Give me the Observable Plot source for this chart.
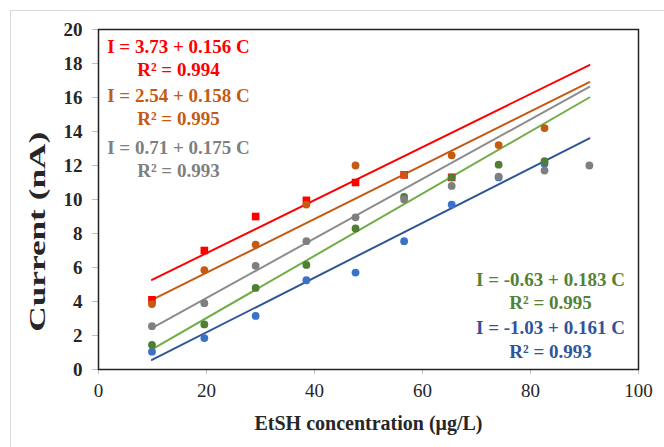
<!DOCTYPE html>
<html><head><meta charset="utf-8">
<script src="https://cdn.jsdelivr.net/npm/d3@7"></script>
<script src="https://cdn.jsdelivr.net/npm/@observablehq/plot@0.6"></script>
<style>
html,body{margin:0;padding:0;background:#fff;}
#wrap{position:relative;width:664px;height:447px;overflow:hidden;}
#border{position:absolute;left:10px;top:10px;width:720px;height:520px;border:1px solid #d9d9d9;box-sizing:border-box;}
#chart{position:absolute;left:0;top:0;}
</style></head><body>
<div id="wrap"><div id="border"></div><div id="chart"></div></div>
<script>
// ---- data ----
const conc = [9.9, 19.6, 29.1, 38.5, 47.6, 56.6, 65.4, 74.1, 82.6, 90.9];
const currentRed    = [4.1, 7.0, 9.0, 9.95, 11.0, 11.45, 11.3];
const currentOrange = [3.85, 5.85, 7.35, 9.7, 12.0, 11.45, 12.6, 13.2, 14.2];
const currentGray   = [2.55, 3.9, 6.1, 7.55, 8.95, 10.0, 10.8, 11.35, 11.7, 12.0];
const currentGreen  = [1.45, 2.65, 4.8, 6.15, 8.3, 10.15, 11.3, 12.05, 12.25];
const currentBlue   = [1.05, 1.85, 3.15, 5.25, 5.7, 7.55, 9.7, 11.3, 12.1];
const trendX = [9.9, 90.9];
const trendRed    = [5.27, 17.91];
const trendOrange = [4.10, 16.90];
const trendGray   = [2.44, 16.62];
const trendGreen  = [1.18, 16.00];
const trendBlue   = [0.56, 13.60];
const eqText = ["I = 3.73 + 0.156 C", "I = 2.54 + 0.158 C", "I = 0.71 + 0.175 C", "I = -0.63 + 0.183 C", "I = -1.03 + 0.161 C"];
const r2Text = ["R² = 0.994", "R² = 0.995", "R² = 0.993", "R² = 0.995", "R² = 0.993"];
const xTicks = [0, 20, 40, 60, 80, 100];
const yTicks = [0, 2, 4, 6, 8, 10, 12, 14, 16, 18, 20];
const xTitle = "EtSH concentration (μg/L)";
const yTitle = "Current (nA)";

// ---- styles / layout ----
const FONT = "Liberation Serif";
const series = [
  {key: "red",    values: currentRed,    trend: trendRed,    point: "#ff0000", line: "#ff0000", text: "#ff0000", symbol: "square", r: 4.3},
  {key: "orange", values: currentOrange, trend: trendOrange, point: "#c55a11", line: "#c55a11", text: "#c55a11", symbol: "circle", r: 3.9},
  {key: "gray",   values: currentGray,   trend: trendGray,   point: "#7f7f7f", line: "#8c8c8c", text: "#7f7f7f", symbol: "circle", r: 3.9},
  {key: "green",  values: currentGreen,  trend: trendGreen,  point: "#507e32", line: "#70ad47", text: "#548235", symbol: "circle", r: 3.9},
  {key: "blue",   values: currentBlue,   trend: trendBlue,   point: "#3a72c8", line: "#2f5597", text: "#2f5597", symbol: "circle", r: 3.9}
];
const drawOrder = ["red", "blue", "green", "orange", "gray"];
const labelPos = [
  {x: 14.8, y1: 18.95, y2: 17.61},
  {x: 14.8, y1: 16.10, y2: 14.73},
  {x: 14.8, y1: 13.02, y2: 11.67},
  {x: 83.7, y1: 5.26,  y2: 3.89},
  {x: 83.7, y1: 2.42,  y2: 1.06}
];
const titlePos = {xTitle: {x: 50, y: -3.2}, yTitle: {x: -11.3, y: 8.1}};

const lineRows = [];
series.forEach(s => trendX.forEach((x, i) => lineRows.push({series: s.key, x, y: s.trend[i]})));
const pointMarks = drawOrder.map(k => {
  const s = series.find(d => d.key === k);
  const rows = s.values.map((v, i) => ({x: conc[i], y: v}));
  return Plot.dot(rows, {x: "x", y: "y", r: s.r, symbol: s.symbol, fill: s.point, stroke: "none"});
});
const lineMarks = series.map(s =>
  Plot.line(lineRows.filter(d => d.series === s.key), {x: "x", y: "y", stroke: s.line, strokeWidth: 2})
);
const labelMarks = [];
series.forEach((s, i) => {
  const p = labelPos[i];
  labelMarks.push(Plot.text([eqText[i]], {x: () => p.x, y: () => p.y1, text: d => d, fill: s.text, fontFamily: FONT, fontSize: 19, fontWeight: "bold", textAnchor: "middle", lineAnchor: "middle"}));
  labelMarks.push(Plot.text([r2Text[i]], {x: () => p.x, y: () => p.y2, text: d => d, fill: s.text, fontFamily: FONT, fontSize: 19, fontWeight: "bold", textAnchor: "middle", lineAnchor: "middle"}));
});

const chart = Plot.plot({
  width: 664, height: 447,
  marginLeft: 98, marginRight: 26, marginTop: 29, marginBottom: 78,
  style: {background: "transparent", color: "#262626", overflow: "visible"},
  x: {domain: [0, 100]},
  y: {domain: [0, 20]},
  marks: [
    Plot.axisX({ticks: xTicks, tickSize: 5, tickPadding: 9, stroke: "#bfbfbf", fill: "#262626", fontFamily: FONT, fontSize: 19, label: null}),
    Plot.axisY({ticks: yTicks, tickSize: 6, tickPadding: 10, stroke: "#bfbfbf", fill: "#262626", fontFamily: FONT, fontSize: 19, fontWeight: "bold", label: null}),
    Plot.frame({stroke: "#222", strokeWidth: 1.5}),
    ...lineMarks,
    ...pointMarks,
    ...labelMarks,
    Plot.text([xTitle], {x: () => titlePos.xTitle.x, y: () => titlePos.xTitle.y, text: d => d, fontFamily: FONT, fontSize: 20, fontWeight: "bold", fill: "#262626", lineAnchor: "middle", clip: false}),
    Plot.text([yTitle], {x: () => titlePos.yTitle.x, y: () => titlePos.yTitle.y, text: d => d, rotate: -90, fontFamily: FONT, fontSize: 23, fontWeight: "bold", fill: "#262626", lineAnchor: "middle", clip: false})
  ]
});
document.getElementById("chart").appendChild(chart);
chart.setAttribute("font-family", FONT);
chart.style.setProperty("font-family", FONT, "important");
chart.querySelectorAll("g, text, tspan").forEach(el => {
  el.setAttribute("font-family", FONT);
  el.style.setProperty("font-family", FONT, "important");
});
// stretch the y title along its length as in the reference
chart.querySelectorAll("text").forEach(el => {
  if (el.textContent === yTitle) { el.setAttribute("textLength", 200); el.setAttribute("lengthAdjust", "spacingAndGlyphs"); }
});
</script>
</body></html>
